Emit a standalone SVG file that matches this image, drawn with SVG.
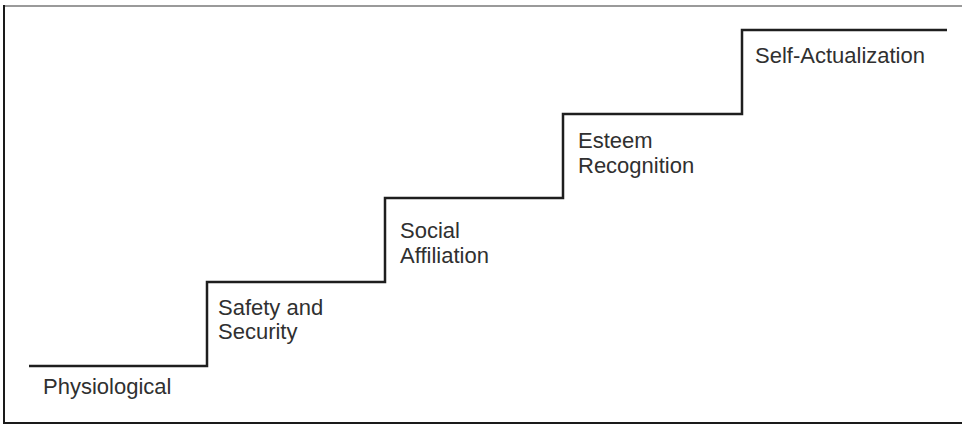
<svg xmlns="http://www.w3.org/2000/svg" width="962" height="426" viewBox="0 0 962 426">
  <style>
    .frame-top { stroke: #9a9a9a; stroke-width: 2; fill: none; }
    .frame { stroke: #1a1a1a; stroke-width: 2; fill: none; }
    .stairs { stroke: #1e1e1e; stroke-width: 2.5; fill: none; stroke-linejoin: miter; stroke-linecap: butt; }
    .label { font-family: "Liberation Sans", Arial, sans-serif; font-size: 22px; fill: #303030; }
  </style>

  <rect x="0" y="0" width="962" height="426" fill="#ffffff"/>

  <!-- outer frame -->
  <g id="frame">
    <line class="frame-top" x1="4" y1="6" x2="962" y2="6"/>
    <polyline class="frame" points="4,5 4,423 962,423"/>
  </g>

  <!-- staircase outline -->
  <g id="connectors">
    <polyline class="stairs" points="29,366 207,366 207,282 385,282 385,198 563,198 563,114 742,114 742,30 947,30"/>
  </g>

  <!-- step labels -->
  <g id="step-physiological">
    <text class="label" x="43" y="394">Physiological</text>
  </g>
  <g id="step-safety">
    <text class="label" x="218" y="315">Safety and</text>
    <text class="label" x="218" y="339">Security</text>
  </g>
  <g id="step-social">
    <text class="label" x="400" y="238">Social</text>
    <text class="label" x="400" y="263">Affiliation</text>
  </g>
  <g id="step-esteem">
    <text class="label" x="578" y="148">Esteem</text>
    <text class="label" x="578" y="173">Recognition</text>
  </g>
  <g id="step-self-actualization">
    <text class="label" x="755" y="63">Self-Actualization</text>
  </g>
</svg>
